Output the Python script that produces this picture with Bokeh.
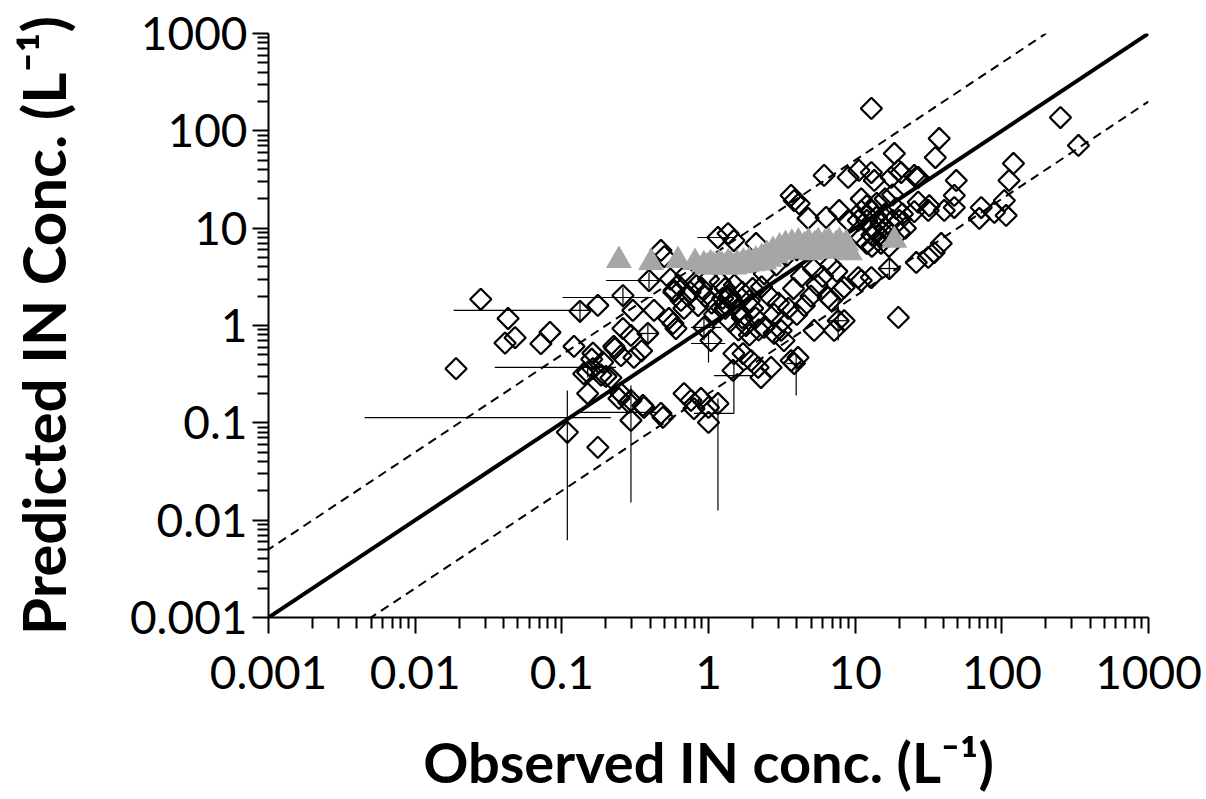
import numpy as np
from bokeh.plotting import figure
from bokeh.models import Range1d, FixedTicker, CustomJSTickFormatter
from bokeh.embed import file_html
from bokeh.resources import INLINE

# ---- data: observed vs predicted IN concentration (L^-1) ----
obs = [0.019, 0.028, 0.043, 0.041, 0.048, 0.072, 0.083, 0.121, 0.133, 0.176,
       0.163, 0.150, 0.141, 0.150, 0.109, 0.176, 0.226, 0.253, 0.31, 0.163,
       0.185, 0.216, 0.261, 0.296, 0.261, 0.393, 0.305, 0.425, 0.474, 0.50,
       0.582, 0.649, 0.724, 0.537, 0.573, 0.60, 0.386, 0.253, 0.296, 0.357,
       0.474, 0.296, 0.245, 0.286, 0.363, 0.489, 0.681, 0.76, 0.889, 1.0,
       1.16, 0.796, 1.0, 0.931, 1.04, 1.22, 1.36, 1.16, 1.36, 1.49,
       2.11, 1.49, 1.47, 1.72, 1.95, 2.18, 2.28, 2.67, 3.84, 4.08,
       3.66, 3.13, 3.27, 2.8, 2.39, 8.41, 7.19, 5.25, 8.41, 6.86,
       11.0, 12.9, 10.5, 8.0, 6.55, 7.66, 17.1, 19.7,
       12.9, 37.4, 35.2, 18.5, 20.6, 26.9, 6.14, 8.96, 10.6, 12.9,
       13.5, 17.6, 19.7, 25.3, 3.66, 3.84, 4.15, 4.78, 6.34, 7.78,
       8.96, 26.9, 31.5, 40.5, 251, 333, 26.1, 120, 112, 48.9,
       47.4, 47.4, 72.4, 70.2, 88.9, 104, 107, 32, 25.3, 38.6,
       34.6, 31.5, 26.1,
       11, 12, 13, 14, 15, 16, 12, 13, 14, 11,
       12, 13, 15, 17, 18, 16, 19, 20, 22, 14,
       18, 10.5, 11, 15, 17, 13, 16, 20, 21,
       1.2, 1.3, 1.4, 1.5, 1.6, 1.7, 1.8, 1.4, 1.3, 1.5,
       1.7, 1.9, 2.0, 2.1, 1.6, 1.9, 2.2, 1.25, 2.0, 1.1,
       0.16, 0.19, 0.23, 0.20, 0.35,
       0.55, 0.62, 0.70, 0.80, 0.90, 1.0, 0.75, 0.58, 0.85, 0.95, 1.05, 0.68,
       2.3, 2.6, 3.0, 3.5, 2.8, 3.2, 4.0, 4.5, 5.0, 5.5,
       6.0, 3.8, 4.3, 5.2, 6.8, 7.5, 2.4, 2.9, 3.4, 4.0]
pred = [0.36, 1.86, 1.18, 0.66, 0.75, 0.65, 0.85, 0.61, 1.40, 1.61,
        0.52, 0.33, 0.32, 0.20, 0.080, 0.056, 0.61, 0.49, 0.47, 0.36,
        0.31, 0.29, 0.93, 0.79, 2.03, 2.90, 1.43, 1.43, 5.9, 5.1,
        2.29, 1.81, 2.03, 1.18, 1.05, 0.93, 0.83, 0.20, 0.17, 0.151,
        0.125, 0.106, 0.178, 0.162, 0.144, 0.114, 0.20, 0.17, 0.178, 0.144,
        0.158, 0.14, 0.101, 0.955, 0.70, 1.53, 1.94, 8.02, 8.81, 7.47,
        6.96, 0.515, 0.345, 0.515, 0.436, 0.371, 0.292, 0.371, 0.407, 0.469,
        0.436, 0.889, 0.70, 0.83, 0.955, 1.12, 0.889, 0.889, 2.46, 1.81,
        2.90, 3.11, 3.11, 2.29, 1.94, 1.12, 3.85, 1.21,
        170, 83.4, 53.2, 58.5, 37.3, 33.2, 34.8, 33.2, 39.2, 37.3,
        30.9, 33.2, 39.2, 34.8, 21.7, 19.2, 17.9, 12.6, 12.9, 15.2,
        12.0, 18.5, 15.2, 15.2, 137, 70.7, 33.2, 46.2, 30.9, 30.9,
        21.7, 16.3, 16.3, 12.6, 14.5, 19.2, 13.5, 17, 14.8, 6.96,
        5.62, 5.0, 4.44,
        20, 17, 15, 13, 11, 10, 12, 10, 9, 8,
        7, 6.5, 8, 9, 12, 14, 16, 12, 10, 18,
        22, 12, 15, 7, 6.5, 8.5, 20, 9, 14,
        2.8, 2.4, 2.0, 1.7, 1.4, 1.2, 1.0, 1.1, 1.5, 2.6,
        2.2, 1.8, 1.5, 1.2, 0.9, 0.8, 0.9, 1.9, 2.4, 1.3,
        0.45, 0.42, 0.58, 0.30, 0.55,
        3.0, 2.6, 3.3, 2.7, 2.4, 3.0, 2.2, 2.2, 1.6, 2.0, 1.7, 1.5,
        2.5, 2.0, 1.7, 1.5, 1.3, 1.1, 1.3, 1.6, 2.0, 2.6,
        3.2, 2.4, 3.2, 3.8, 4.2, 3.6, 3.4, 4.2, 5.2, 6.0]

# second series (grey triangles)
tri_obs = [0.245, 0.406, 0.619, 0.809,
           0.93, 0.98, 1.03, 1.08, 1.13, 1.18, 1.24, 1.30, 1.36, 1.42,
           1.50, 1.57, 1.65, 1.73, 1.82, 1.90, 2.0, 2.1, 2.2,
           2.3, 2.4, 2.5, 2.6, 2.75, 2.9, 3.05, 3.2, 3.35, 3.5, 3.7, 3.9,
           4.1, 4.3, 4.5, 4.8, 5.0, 5.3, 5.6, 5.9, 6.2, 6.6, 7.0, 7.4,
           7.8, 8.2, 8.7, 9.2, 18.5]
tri_pred = [4.66, 4.44, 4.66, 4.44,
            4.2, 4.0, 4.3, 4.1, 4.0, 4.3, 4.1, 4.0, 4.4, 4.2,
            4.0, 4.3, 4.1, 4.5, 4.2, 4.6, 4.3, 4.7, 4.4,
            5.0, 4.5, 5.4, 4.8, 5.9, 5.2, 6.4, 5.6, 6.8, 6.0, 7.0, 6.2,
            7.2, 5.8, 6.6, 7.2, 5.6, 6.8, 7.3, 6.0, 7.0, 7.4, 5.8, 6.8,
            7.3, 6.2, 7.0, 5.6, 7.5]

# error bars: centre, x-range, y-range
eb_x = [0.133, 0.261, 0.393, 0.109, 0.150, 0.296, 1.16, 1.49, 3.96, 1.0, 17.1, 7.66, 0.386, 1.16, 0.931]
eb_y = [1.43, 1.94, 2.90, 0.113, 0.371, 0.128, 0.125, 0.306, 0.407, 0.653, 3.85, 1.12, 0.828, 8.02, 0.955]
eb_xlo = [0.0183, 0.101, 0.200, 0.00452, 0.0349, 0.1285, 0.796, 1.09, 3.4, 0.76, 14.6, 6.55, 0.330, 0.84, 0.76]
eb_xhi = [0.157, 0.417, 0.474, 0.216, 0.234, 0.439, 1.49, 1.95, 4.6, 1.3, 20.0, 8.96, 0.452, 1.5, 1.22]
eb_ylo = [1.07, 1.53, 2.4, 0.0062, 0.292, 0.0152, 0.0126, 0.125, 0.191, 0.417, 3.04, 0.70, 0.624, 8.02, 0.70]
eb_yhi = [1.81, 2.46, 3.5, 0.215, 0.436, 0.242, 0.178, 0.436, 0.492, 0.889, 4.88, 1.81, 1.05, 8.02, 1.21]

# reference lines
ref_x = [0.001, 1000]
factor = 5.0

major_ticks = [0.001, 0.01, 0.1, 1, 10, 100, 1000]
minor_ticks = [d * 10.0 ** k for k in range(-3, 3) for d in range(2, 10)]

p = figure(width=1206, height=799, x_axis_type="log", y_axis_type="log",
           x_range=Range1d(0.001, 1000), y_range=Range1d(0.001, 1000),
           output_backend="svg", toolbar_location=None,
           min_border_left=268, min_border_right=58,
           min_border_top=33, min_border_bottom=182)
p.outline_line_color = None
p.grid.visible = False
p.background_fill_color = "white"
p.border_fill_color = "white"

# lines
rx = np.array(ref_x)
p.line(rx, rx, line_color="black", line_width=4)
p.line(rx / factor, rx, line_color="black", line_width=2, line_dash="9 6")
p.line(rx, rx / factor, line_color="black", line_width=2, line_dash="9 6")

# error bars
p.segment(x0=eb_xlo, y0=eb_y, x1=eb_xhi, y1=eb_y, line_color="black", line_width=1.2)
p.segment(x0=eb_x, y0=eb_ylo, x1=eb_x, y1=eb_yhi, line_color="black", line_width=1.2)

# diamonds
p.scatter(obs, pred, marker="square", angle=np.pi / 4, size=15,
          fill_color=None, line_color="black", line_width=2.2)

# triangles
p.scatter(tri_obs, tri_pred, marker="triangle", size=26,
          fill_color="#a6a6a6", line_color=None)

fmt = CustomJSTickFormatter(code="return String(tick);")
for ax in (p.xaxis, p.yaxis):
    ax.ticker = FixedTicker(ticks=major_ticks, minor_ticks=minor_ticks)
    ax.formatter = fmt
    ax.axis_line_width = 2
    ax.major_tick_line_width = 2
    ax.minor_tick_line_width = 2
    ax.major_tick_out = 16
    ax.major_tick_in = 0
    ax.minor_tick_out = 11
    ax.minor_tick_in = 0
    ax.major_label_text_font = "Lato"
    ax.major_label_text_font_size = "46px"
    ax.major_label_text_color = "black"
    ax.axis_label_text_font = "Lato"
    ax.axis_label_text_font_style = "bold"
    ax.axis_label_text_color = "black"

p.xaxis.axis_label_text_font_size = "56px"
p.yaxis.axis_label_text_font_size = "60px"
p.xaxis.major_label_standoff = 22
p.yaxis.major_label_standoff = 5
p.xaxis.axis_label = "Observed IN conc. (L\u207b\u00b9)"
p.yaxis.axis_label = "Predicted IN Conc. (L\u207b\u00b9)"
p.xaxis.axis_label_standoff = 36
p.yaxis.axis_label_standoff = 48

open("out.html", "w").write(file_html(p, INLINE))
